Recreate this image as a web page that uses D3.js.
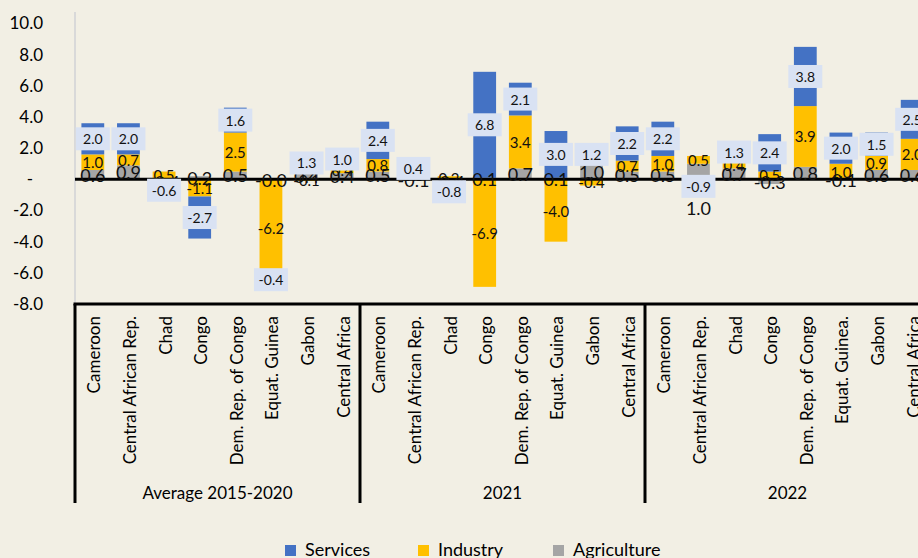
<!DOCTYPE html>
<html>
<head>
<meta charset="utf-8">
<script src="https://cdn.jsdelivr.net/npm/d3@7"></script>
<style>
  html, body { margin: 0; padding: 0; background: #F2EFE4; overflow: hidden; }
  svg { display: block; font-family: Lato, 'Open Sans', sans-serif; }
</style>
</head>
<body>
<div id="chart"></div>
<script>
const GROUPS = ['Average 2015-2020', '2021', '2022'];
const COUNTRIES = [
  ['Cameroon', 'Central African Rep.', 'Chad', 'Congo', 'Dem. Rep. of Congo', 'Equat. Guinea', 'Gabon', 'Central Africa'],
  ['Cameroon', 'Central African Rep.', 'Chad', 'Congo', 'Dem. Rep. of Congo', 'Equat. Guinea', 'Gabon', 'Central Africa'],
  ['Cameroon', 'Central African Rep.', 'Chad', 'Congo', 'Dem. Rep. of Congo', 'Equat. Guinea.', 'Gabon', 'Central Africa'],
];

// contributions, in the order of COUNTRIES flattened
const SERVICES    = [2.0, 2.0, -0.6, -2.7, 1.6, -0.4, 1.3, 1.0,   2.4, 0.4, -0.8, 6.8, 2.1, 3.0, 1.2, 2.2,   2.2, -0.9, 1.3, 2.4, 3.8, 2.0, 1.5, 2.5];
const INDUSTRY    = [1.0, 0.7, 0.5, -1.1, 2.5, -6.2, -0.1, 0.4,   0.8, 0.5, 0.2, -6.9, 3.4, -4.0, -0.4, 0.7,  1.0, 0.5, 0.4, 0.5, 3.9, 1.0, 0.9, 2.0];
const AGRICULTURE = [0.6, 0.9, -0.4, 0.2, 0.5, -0.04, 0.4, 0.4,   0.5, -0.1, -0.4, 0.1, 0.7, 0.1, 1.0, 0.5,   0.5, 1.0, 0.7, -0.3, 0.8, -0.1, 0.6, 0.6];

const Y_TICKS = [-8, -6, -4, -2, 0, 2, 4, 6, 8, 10];

const SERIES = [
  { key: 'Agriculture', color: '#A5A5A5' },
  { key: 'Industry',    color: '#FFC000' },
  { key: 'Services',    color: '#4472C4' },
];
const LEGEND_ORDER = ['Services', 'Industry', 'Agriculture'];

// one label was dragged below the axis in the original
const LABEL_NUDGE = { 'Agriculture-17': 36 };

const W = 918, H = 558;
const left = 75, plotRight = 930;

const rows = [];
GROUPS.forEach((g, gi) => {
  COUNTRIES[gi].forEach((c, ci) => {
    const i = rows.length;
    rows.push({
      id: gi + '|' + c, group: g, country: c,
      Services: SERVICES[i], Industry: INDUSTRY[i], Agriculture: AGRICULTURE[i],
    });
  });
});

const stacked = d3.stack()
  .keys(SERIES.map(s => s.key))
  .offset(d3.stackOffsetDiverging)(rows);

const svg = d3.select('#chart').append('svg')
  .attr('width', W).attr('height', H)
  .attr('viewBox', `0 0 ${W} ${H}`);

svg.append('rect').attr('width', W).attr('height', H).attr('fill', '#F2EFE4');

const x = d3.scaleBand()
  .domain(rows.map(r => r.id))
  .range([left, plotRight])
  .paddingInner(0.36)
  .paddingOuter(0.18);

const y = d3.scaleLinear()
  .domain([-8, 10])
  .range([304, 23.5]);

// faint value axis line
svg.append('line')
  .attr('x1', left).attr('x2', left)
  .attr('y1', 12).attr('y2', y(-8))
  .attr('stroke', '#D9D9D9').attr('stroke-width', 2);

const yAxis = svg.append('g')
  .attr('transform', `translate(${left},0)`)
  .call(d3.axisLeft(y).tickValues(Y_TICKS).tickSize(0).tickPadding(32)
    .tickFormat(d => d === 0 ? '-' : d.toFixed(1)))
  .call(g => g.select('.domain').remove());
yAxis.selectAll('text')
  .attr('font-family', 'Lato, sans-serif')
  .attr('font-size', 17)
  .attr('fill', '#000')
  .filter(d => d === 0).attr('dx', -10);

// bars
const layers = svg.append('g').selectAll('g')
  .data(stacked)
  .join('g')
  .attr('fill', (d, i) => SERIES[i].color);

layers.selectAll('rect')
  .data(d => d)
  .join('rect')
  .attr('x', d => x(d.data.id))
  .attr('width', x.bandwidth())
  .attr('y', d => y(Math.max(d[0], d[1])))
  .attr('height', d => Math.abs(y(d[0]) - y(d[1])));

// zero line
svg.append('line')
  .attr('x1', left).attr('x2', W)
  .attr('y1', y(0)).attr('y2', y(0))
  .attr('stroke', '#000').attr('stroke-width', 3);

// category axis frame
const step = x.step();
const edge = i => x(rows[i].id) - step * x.paddingInner() / 2;
svg.append('line')
  .attr('x1', left - 1.5).attr('x2', W)
  .attr('y1', y(-8)).attr('y2', y(-8))
  .attr('stroke', '#000').attr('stroke-width', 3);
GROUPS.forEach((g, gi) => {
  const x0 = edge(gi * 8);
  const x1 = gi < GROUPS.length - 1 ? edge((gi + 1) * 8) : plotRight;
  svg.append('line')
    .attr('x1', x0).attr('x2', x0)
    .attr('y1', y(-8)).attr('y2', 503)
    .attr('stroke', '#000').attr('stroke-width', 3);
  svg.append('text')
    .attr('x', (x0 + x1) / 2).attr('y', 492)
    .attr('text-anchor', 'middle')
    .attr('dominant-baseline', 'central')
    .attr('font-size', 17)
    .text(g);
});

svg.append('g').selectAll('text')
  .data(rows)
  .join('text')
  .attr('transform', d => `translate(${x(d.id) + x.bandwidth() / 2 + 1},316) rotate(-90)`)
  .attr('text-anchor', 'end')
  .attr('dominant-baseline', 'central')
  .attr('font-size', 17)
  .text(d => d.country);

// data labels
const fmt = v => v.toFixed(1);
const labelSize = { Agriculture: 18, Industry: 15, Services: 14 };

stacked.forEach((layer, li) => {
  const key = SERIES[li].key;
  const g = svg.append('g');
  const items = g.selectAll('g')
    .data(layer)
    .join('g')
    .attr('transform', (d, i) => {
      const cy = y((d[0] + d[1]) / 2) + (LABEL_NUDGE[key + '-' + i] || 0);
      return `translate(${x(d.data.id) + x.bandwidth() / 2},${cy})`;
    });
  if (key === 'Services') {
    items.append('rect')
      .attr('x', -17).attr('y', -11.5)
      .attr('width', 34).attr('height', 23)
      .attr('fill', '#D9E2F3');
  }
  items.append('text')
    .attr('text-anchor', 'middle')
    .attr('dominant-baseline', 'central')
    .attr('font-size', labelSize[key])
    .attr('fill', '#111')
    .text(d => fmt(d.data[key]));
});

// legend
const legendX = { Services: 285, Industry: 418, Agriculture: 553 };
const legend = svg.append('g').selectAll('g')
  .data(LEGEND_ORDER)
  .join('g')
  .attr('transform', k => `translate(${legendX[k]},545)`);
legend.append('rect')
  .attr('width', 11).attr('height', 11)
  .attr('fill', k => SERIES.find(s => s.key === k).color);
legend.append('text')
  .attr('x', 20).attr('y', 11)
  .attr('font-size', 18)
  .text(k => k);
</script>
</body>
</html>
